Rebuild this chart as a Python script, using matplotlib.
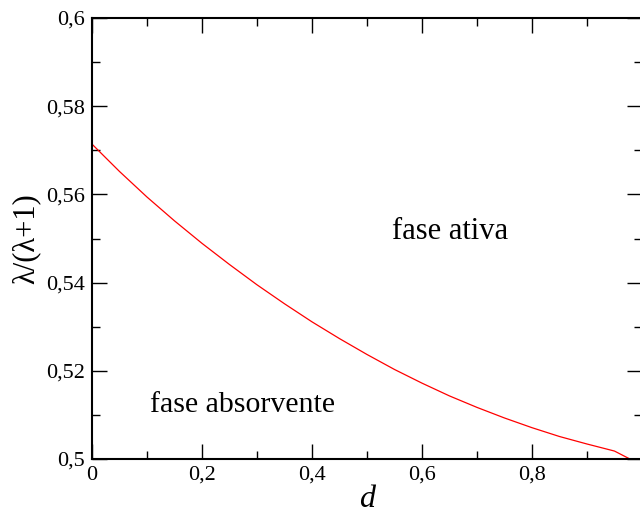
import matplotlib
matplotlib.use("Agg")
import matplotlib.pyplot as plt
from matplotlib.ticker import MultipleLocator, FuncFormatter

d = [0.0, 0.05, 0.1, 0.15, 0.2, 0.25, 0.3, 0.35, 0.4, 0.45, 0.5, 0.55, 0.6, 0.65, 0.7, 0.75, 0.8, 0.85, 0.9, 0.95, 0.978]
lam_ratio = [0.5714, 0.5652, 0.5594, 0.5540, 0.5489, 0.5441, 0.5395, 0.5352, 0.5311, 0.5273, 0.5237, 0.5203, 0.5172, 0.5143, 0.5117, 0.5093, 0.5071, 0.5051, 0.5034, 0.5018, 0.5000]

plt.rcParams['font.family'] = ['Liberation Serif', 'DejaVu Serif']

fig = plt.figure(figsize=(6.4, 5.16), dpi=100)
ax = fig.add_axes([92/640, 1-459/516, 550/640, 441/516])
ax.plot(d, lam_ratio, color='red', lw=0.9)
ax.set_xlim(0, 1)
ax.set_ylim(0.5, 0.6)

ax.xaxis.set_major_locator(MultipleLocator(0.2))
ax.xaxis.set_minor_locator(MultipleLocator(0.1))
ax.yaxis.set_major_locator(MultipleLocator(0.02))
ax.yaxis.set_minor_locator(MultipleLocator(0.01))
fmt = FuncFormatter(lambda v, p: ('%g' % round(v, 4)).replace('.', ','))
xfmt = FuncFormatter(lambda v, p: '' if v > 0.99 else ('%g' % round(v, 4)).replace('.', ','))
ax.xaxis.set_major_formatter(xfmt)
ax.yaxis.set_major_formatter(fmt)
ax.tick_params(which='both', direction='in', top=True, right=True, labelsize=16, width=1)
ax.tick_params(which='major', length=11, pad=5)
ax.tick_params(which='minor', length=5.5)
for s in ax.spines.values():
    s.set_linewidth(1.5)

ax.set_xlabel('d', fontsize=23, style='italic', labelpad=0)
ax.set_ylabel('λ/(λ+1)', fontsize=22, labelpad=4)

ax.text(0.651, 0.5517, 'fase ativa', fontsize=22, ha='center', va='center')
ax.text(0.273, 0.5122, 'fase absorvente', fontsize=21.5, ha='center', va='center')

fig.savefig('out.png', dpi=100)
